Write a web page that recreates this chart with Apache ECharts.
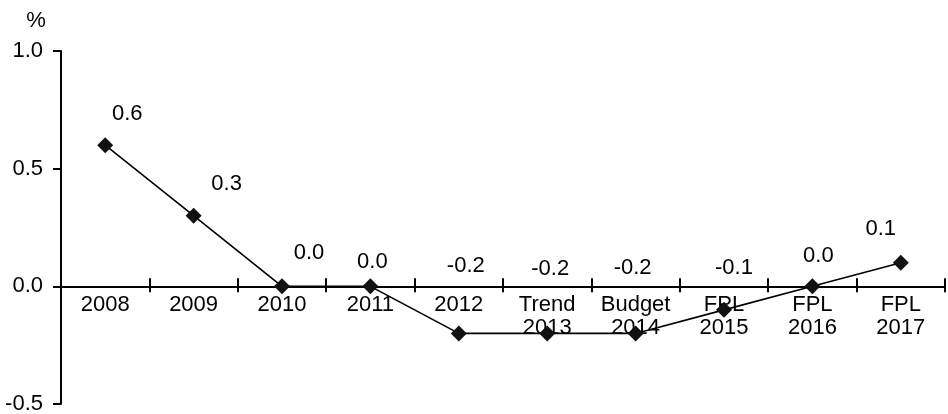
<!DOCTYPE html>
<html>
<head>
<meta charset="utf-8">
<script src="https://cdn.jsdelivr.net/npm/echarts@6/dist/echarts.min.js"></script>
<style>
  html, body { margin: 0; padding: 0; background: #fff; }
  #chart { width: 948px; height: 414px; }
</style>
</head>
<body>
<div id="chart"></div>
<script>
// Periods on the horizontal axis (two-line labels for projected years)
const categories = ['2008', '2009', '2010', '2011', '2012',
  'Trend\n2013', 'Budget\n2014', 'FPL\n2015', 'FPL\n2016', 'FPL\n2017'];

// Annual change, per cent
const values = [0.6, 0.3, 0.0, 0.0, -0.2, -0.2, -0.2, -0.1, 0.0, 0.1];

// Value-axis range and step
const yMin = -0.5;
const yMax = 1.0;
const yStep = 0.5;

// Hand placement of each value label relative to its marker (px)
const labelNudges = [
  [22, -31], [33, -32], [27, -33], [2, -24], [7, -67],
  [3, -64], [-3, -65], [10, -42], [6, -30], [-20, -34]
];

const FONT = 'Liberation Sans, Arial, sans-serif';
const FONT_SIZE = 22;
const INK = '#000';

const CHART_H = 414;
const GRID = { left: 61, right: 3, top: 51, bottom: 10 };
// The category axis sits on the zero line: shift it up from the grid's bottom edge
const plotH = CHART_H - GRID.top - GRID.bottom;
const zeroLift = -plotH * (0 - yMin) / (yMax - yMin);

const chart = echarts.init(document.getElementById('chart'), null, { renderer: 'canvas' });

chart.setOption({
  animation: false,
  backgroundColor: '#fff',
  grid: Object.assign({ containLabel: false, outerBoundsMode: 'none' }, GRID),
  xAxis: [
    {
      type: 'category',
      data: categories,
      position: 'bottom',
      offset: zeroLift,
      boundaryGap: true,
      axisLine: { onZero: false, lineStyle: { color: INK, width: 2 } },
      axisTick: { show: true, inside: false, length: 6, lineStyle: { color: INK, width: 2 } },
      axisLabel: {
        interval: 0, margin: 7, color: INK, fontFamily: FONT, fontSize: FONT_SIZE,
        lineHeight: 23, align: 'center'
      },
      splitLine: { show: false }
    },
    {
      // upper half of the crossing tick marks
      type: 'category',
      data: categories,
      position: 'bottom',
      offset: zeroLift,
      boundaryGap: true,
      axisLine: { show: false, onZero: false },
      axisTick: { show: true, inside: true, length: 8, lineStyle: { color: INK, width: 2 } },
      axisLabel: { show: false },
      splitLine: { show: false }
    }
  ],
  yAxis: {
    type: 'value',
    min: yMin,
    max: yMax,
    interval: yStep,
    name: '%',
    nameLocation: 'end',
    nameGap: 19,
    nameTextStyle: {
      color: INK, fontFamily: FONT, fontSize: FONT_SIZE,
      align: 'center', padding: [0, 50, 0, 0]
    },
    axisLine: { show: true, onZero: false, lineStyle: { color: INK, width: 2 } },
    axisTick: { show: true, inside: false, length: 8, lineStyle: { color: INK, width: 2 } },
    axisLabel: {
      margin: 18, color: INK, fontFamily: FONT, fontSize: FONT_SIZE,
      formatter: v => v.toFixed(1)
    },
    splitLine: { show: false }
  },
  series: [{
    type: 'line',
    xAxisIndex: 0,
    data: values.map((v, i) => ({ value: v, label: { offset: labelNudges[i] } })),
    lineStyle: { color: INK, width: 1.6 },
    itemStyle: { color: '#111' },
    symbol: 'diamond',
    symbolSize: 16,
    z: 5,
    label: {
      show: true,
      position: 'inside',
      align: 'center',
      verticalAlign: 'middle',
      color: INK,
      fontFamily: FONT,
      fontSize: FONT_SIZE,
      formatter: p => p.value.toFixed(1)
    }
  }]
});
</script>
</body>
</html>
